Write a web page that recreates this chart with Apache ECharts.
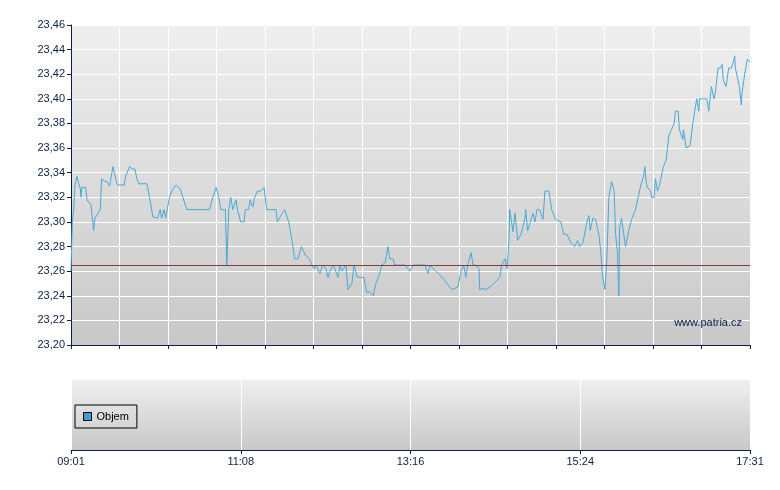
<!DOCTYPE html>
<html>
<head>
<meta charset="utf-8">
<script src="https://cdn.jsdelivr.net/npm/echarts@6/dist/echarts.min.js"></script>
<style>html,body{margin:0;padding:0;background:#fff}#main{width:780px;height:490px}</style>
</head>
<body>
<div id="main"></div>
<script>
// minuty od 09:01 a cena
var minutes = [0,1,2,3,4.5,6,7,7.5,8,11,12,13.5,15,16,17,18,19.5,22,23,25,27,29,31.5,34,35,37,38,40,41,44,46,48,49.5,51,54,57,59,61.5,63,65,67,68,70,71,74,76,79,82,84,87,104,106.5,109,111,112.5,116,117,118.5,120,121.5,124,125,127.5,130,131,133.5,134.5,136.5,138,140,142.5,145,147,150,154,155,157.5,160.5,163.5,166,168,170.5,173,174,176,179,181,182.5,184,187,189,191.5,193,194.5,197,198,200.5,202,203.5,205,206.5,208,211,212.5,214,215,217,220,222,224.5,227,229,231,233.5,236,238,239.5,242,243,245.5,247,251,254.5,257,262,266,268,270,272,274,277,281,286,290.5,293,295,296.5,298,300.5,302,304,306.5,307,309.5,312,314.5,317.5,322,323.5,326,327.5,329,329.5,332,333.5,335.5,338,339.5,341,341.5,343,344.5,347,348.5,350,352,354.5,356,359,361,364,368,370,372.5,375.5,378.5,380.5,382,384.5,387.5,389,390,392,394,396.5,398,399,401,402.5,404,406,408,409,410.5,411.5,412,413.5,415,416.5,419,421,424,425.5,428,429.5,430,431,432,433,435.5,436,438,439,440.5,442,444,445,447,449,451,453,454,456,457,459.5,460,462,465,467,468.5,470,471.5,472,474,477.5,479,481,483,484,486,488,489,490,492,494,496,497.5,498.5,499,500.5,502,503,503.5,504,505.5,506,508,510];
var prices = [23.26,23.30,23.31,23.33,23.337,23.33,23.327,23.32,23.328,23.328,23.318,23.317,23.314,23.303,23.293,23.303,23.303,23.31,23.335,23.333,23.333,23.329,23.345,23.333,23.33,23.33,23.33,23.33,23.337,23.345,23.343,23.343,23.335,23.331,23.331,23.331,23.32,23.304,23.303,23.303,23.31,23.303,23.31,23.303,23.32,23.326,23.33,23.327,23.32,23.31,23.31,23.32,23.328,23.32,23.31,23.31,23.265,23.31,23.32,23.31,23.318,23.31,23.30,23.30,23.31,23.31,23.318,23.312,23.32,23.325,23.325,23.328,23.31,23.31,23.31,23.30,23.305,23.31,23.30,23.285,23.27,23.27,23.28,23.28,23.273,23.27,23.265,23.262,23.265,23.258,23.265,23.262,23.255,23.26,23.265,23.265,23.255,23.265,23.26,23.26,23.265,23.245,23.25,23.265,23.265,23.255,23.255,23.255,23.243,23.243,23.24,23.25,23.255,23.265,23.267,23.28,23.27,23.27,23.265,23.265,23.265,23.265,23.26,23.265,23.265,23.265,23.258,23.265,23.262,23.26,23.257,23.252,23.245,23.247,23.26,23.265,23.255,23.265,23.275,23.265,23.265,23.262,23.245,23.246,23.245,23.247,23.25,23.255,23.265,23.27,23.262,23.285,23.31,23.292,23.307,23.285,23.29,23.29,23.303,23.31,23.293,23.293,23.307,23.30,23.31,23.31,23.302,23.325,23.325,23.31,23.302,23.30,23.29,23.29,23.283,23.28,23.285,23.28,23.283,23.30,23.305,23.293,23.303,23.302,23.29,23.275,23.258,23.245,23.27,23.32,23.333,23.325,23.29,23.275,23.24,23.295,23.303,23.302,23.28,23.293,23.302,23.31,23.31,23.33,23.335,23.337,23.345,23.332,23.328,23.325,23.32,23.32,23.335,23.325,23.33,23.34,23.345,23.35,23.37,23.375,23.38,23.39,23.39,23.375,23.367,23.375,23.36,23.362,23.38,23.39,23.40,23.39,23.40,23.40,23.40,23.39,23.41,23.40,23.405,23.425,23.425,23.428,23.415,23.41,23.425,23.425,23.43,23.435,23.425,23.425,23.41,23.41,23.395,23.405,23.405,23.42,23.432,23.43];
var refPrice = 23.265;
var timeLabels = ['09:01','11:08','13:16','15:24','17:31'];

var data = minutes.map(function (m, i) { return [m, prices[i]]; });
var navy = '#0c2048';
var bg = new echarts.graphic.LinearGradient(0, 0, 0, 1, [
    {offset: 0, color: '#efefef'}, {offset: 1, color: '#c8c8c8'}
]);

var myChart = echarts.init(document.getElementById('main'));
var option = {
    animation: false,
    grid: [
        {left: 71, right: 30, top: 25, height: 320, show: true, backgroundColor: bg, borderWidth: 0},
        {left: 71, right: 30, top: 380, height: 70, show: true, backgroundColor: bg, borderWidth: 0}
    ],
    legend: {
        left: 75, top: 405, padding: [6, 8], borderColor: '#000', borderWidth: 1, borderRadius: 0,
        itemWidth: 8, itemHeight: 8, itemGap: 4,
        textStyle: {fontFamily: 'Arial, Liberation Sans', fontSize: 11, color: '#000'},
        data: [{name: 'Objem', icon: 'rect', itemStyle: {color: '#3f9fd0', borderColor: '#000', borderWidth: 1}}]
    },
    xAxis: [
        {gridIndex: 0, type: 'value', min: 0, max: 510, interval: 510 / 14,
            axisLine: {lineStyle: {color: navy}}, axisTick: {length: 4, lineStyle: {color: navy}},
            axisLabel: {show: false}, splitLine: {lineStyle: {color: '#fff', width: 1}}},
        {gridIndex: 1, type: 'value', min: 0, max: 510, interval: 127.5,
            axisLine: {lineStyle: {color: navy}}, axisTick: {length: 4, lineStyle: {color: navy}},
            axisLabel: {color: navy, fontFamily: 'Arial, Liberation Sans', fontSize: 11, margin: 6,
                formatter: function (v) { return timeLabels[Math.round(v / 127.5)]; }},
            splitLine: {lineStyle: {color: '#fff', width: 1}}}
    ],
    yAxis: [
        {gridIndex: 0, type: 'value', min: 23.20, max: 23.46, interval: 0.02,
            axisLine: {show: true, lineStyle: {color: navy}}, axisTick: {show: true, length: 4, lineStyle: {color: navy}},
            axisLabel: {color: navy, fontFamily: 'Arial, Liberation Sans', fontSize: 11, margin: 6,
                formatter: function (v) { return v.toFixed(2).replace('.', ','); }},
            splitLine: {lineStyle: {color: '#fff', width: 1}}},
        {gridIndex: 1, type: 'value', min: 0, max: 1,
            axisLine: {show: false}, axisTick: {show: false}, axisLabel: {show: false}, splitLine: {show: false}}
    ],
    graphic: [{
        type: 'text', right: 38, top: 317, z: 100,
        style: {text: 'www.patria.cz', fill: navy, font: '11px Arial, Liberation Sans'}
    }],
    series: [
        {
            name: 'Cena', type: 'line', xAxisIndex: 0, yAxisIndex: 0, data: data,
            showSymbol: false, lineStyle: {color: '#4aa8d4', width: 1},
            markLine: {
                silent: true, symbol: 'none', label: {show: false}, precision: 3,
                lineStyle: {color: '#8a3a3a', width: 1, type: 'solid'},
                data: [{yAxis: refPrice}]
            }
        },
        {name: 'Objem', type: 'bar', xAxisIndex: 1, yAxisIndex: 1, data: [], itemStyle: {color: '#3f9fd0'}}
    ]
};
myChart.setOption(option);
</script>
</body>
</html>
